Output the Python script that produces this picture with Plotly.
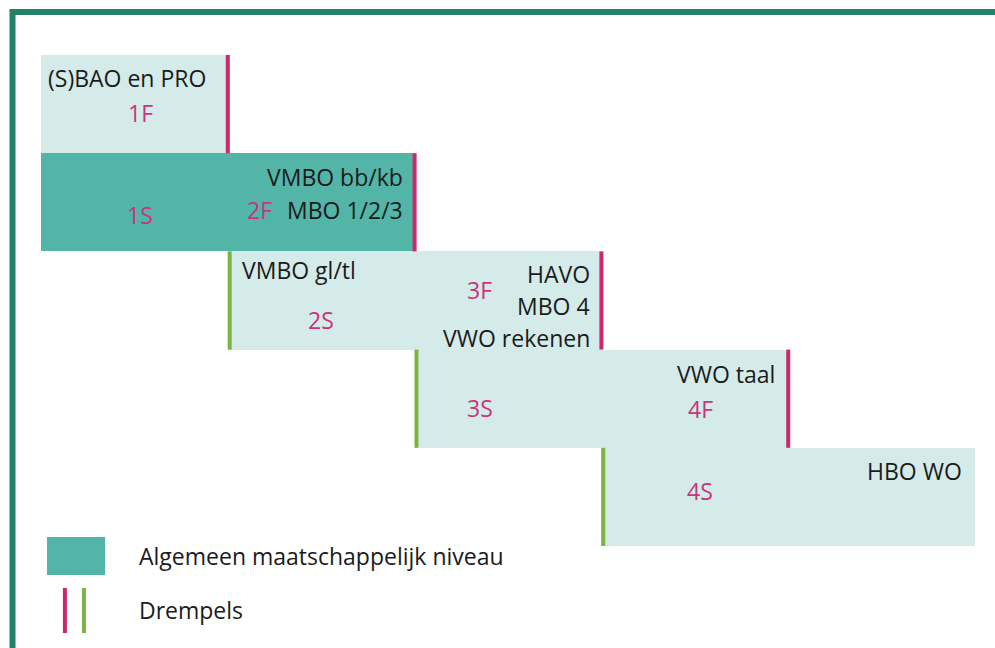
import plotly.graph_objects as go

# ---- data ----
rows = [0, 1, 2, 3, 4]                    # level rows (top to bottom)
box_start = [0, 0, 1, 2, 3]               # start of each band (in level steps)
box_end = [1, 2, 3, 4, 5]                 # end of each band
societal_row = 1                          # row shown as "Algemeen maatschappelijk niveau"

f_levels = ["1F", "2F", "3F", "4F"]       # fundamental levels (thresholds on right edge)
f_rows = [0, 1, 2, 3]
s_levels = ["1S", "2S", "3S", "4S"]       # streefniveaus
s_rows = [1, 2, 3, 4]
green_rows = [2, 3, 4]                    # thresholds at left edge

school_labels = ["(S)BAO en PRO", "VMBO bb/kb", "MBO 1/2/3", "VMBO gl/tl",
                 "HAVO", "MBO 4", "VWO rekenen", "VWO taal", "HBO WO"]
legend_labels = ["Algemeen maatschappelijk niveau", "Drempels"]

# ---- styles ----
LIGHT = "#d4ebe9"
DARK = "#53b4a8"
MAGENTA = "#d0266c"
GREEN = "#7cb444"
PINK_TXT = "#c9357a"
TXT = "#1b1b1b"
FRAME = "#23806a"
FONT = "Open Sans"
FS = 23

fig = go.Figure()

# bands
widths = [e - s for s, e in zip(box_start, box_end)]
colors = [DARK if r == societal_row else LIGHT for r in rows]
fig.add_trace(go.Bar(y=rows, x=widths, base=box_start, orientation="h", width=1.0,
                     marker=dict(color=colors, line=dict(width=0)),
                     hoverinfo="skip", showlegend=False))

# magenta thresholds (right edges)
mx, my = [], []
for r in f_rows:
    xv = box_end[r]
    mx += [xv, xv, None]
    my += [r - 0.5, r + 0.5, None]
fig.add_trace(go.Scatter(x=mx, y=my, mode="lines", line=dict(color=MAGENTA, width=4),
                         hoverinfo="skip", showlegend=False))
# green thresholds (left edges)
gx, gy = [], []
for r in green_rows:
    xv = box_start[r] + 0.01
    gx += [xv, xv, None]
    gy += [r - 0.5, r + 0.5, None]
fig.add_trace(go.Scatter(x=gx, y=gy, mode="lines", line=dict(color=GREEN, width=4),
                         hoverinfo="skip", showlegend=False))

ann = []
def label(text, x, y, color=TXT, xanchor="center"):
    ann.append(dict(text=text, x=x, y=y, xref="x", yref="y", showarrow=False,
                    xanchor=xanchor, yanchor="middle",
                    font=dict(family=FONT, size=FS, color=color)))

# level labels
f_pos = [(0.53, 0.09), (1.17, 1.08), (2.35, 1.89), (3.53, 3.10)]
for t, (x, y) in zip(f_levels, f_pos):
    label(t, x, y, PINK_TXT)
s_pos = [(0.53, 1.13), (1.50, 2.20), (2.35, 3.09), (3.53, 3.94)]
for t, (x, y) in zip(s_levels, s_pos):
    label(t, x, y, PINK_TXT)

# school type labels
school_pos = [(0.46, -0.27, "center"), (1.95, 0.74, "right"), (1.95, 1.08, "right"),
              (1.065, 1.69, "left"), (2.95, 1.73, "right"), (2.95, 2.06, "right"),
              (2.95, 2.38, "right"), (3.94, 2.75, "right"), (4.94, 3.74, "right")]
for t, (x, y, a) in zip(school_labels, school_pos):
    label(t, x, y, TXT, a)

# legend
label(legend_labels[0], 0.514, 4.60, TXT, "left")
label(legend_labels[1], 0.514, 5.15, TXT, "left")

shapes = [
    dict(type="rect", xref="x", yref="y", x0=0.032, x1=0.343, y0=4.408, y1=4.795,
         fillcolor=DARK, line=dict(width=0)),
    dict(type="line", xref="x", yref="y", x0=0.128, x1=0.128, y0=4.928, y1=5.386,
         line=dict(color=MAGENTA, width=4)),
    dict(type="line", xref="x", yref="y", x0=0.230, x1=0.230, y0=4.928, y1=5.386,
         line=dict(color=GREEN, width=4)),
    # frame
    dict(type="line", xref="paper", yref="paper", x0=10 / 995, x1=1.0,
         y0=1 - 12 / 648, y1=1 - 12 / 648, line=dict(color=FRAME, width=6)),
    dict(type="line", xref="paper", yref="paper", x0=12.5 / 995, x1=12.5 / 995,
         y0=0, y1=1 - 9 / 648, line=dict(color=FRAME, width=6)),
]

fig.update_layout(
    width=995, height=648,
    margin=dict(l=0, r=0, t=0, b=0),
    paper_bgcolor="white", plot_bgcolor="white",
    xaxis=dict(range=[-41 / 186.8, (995 - 41) / 186.8], visible=False, fixedrange=True),
    yaxis=dict(range=[-0.5 + 593 / 98.2, -0.5 - 55 / 98.2], visible=False, fixedrange=True),
    bargap=0, hovermode=False, showlegend=False,
    annotations=ann, shapes=shapes,
)

fig.write_html("out.html", config={"displayModeBar": False},
               post_script="document.body.style.margin='0';document.body.style.overflow='hidden';")
